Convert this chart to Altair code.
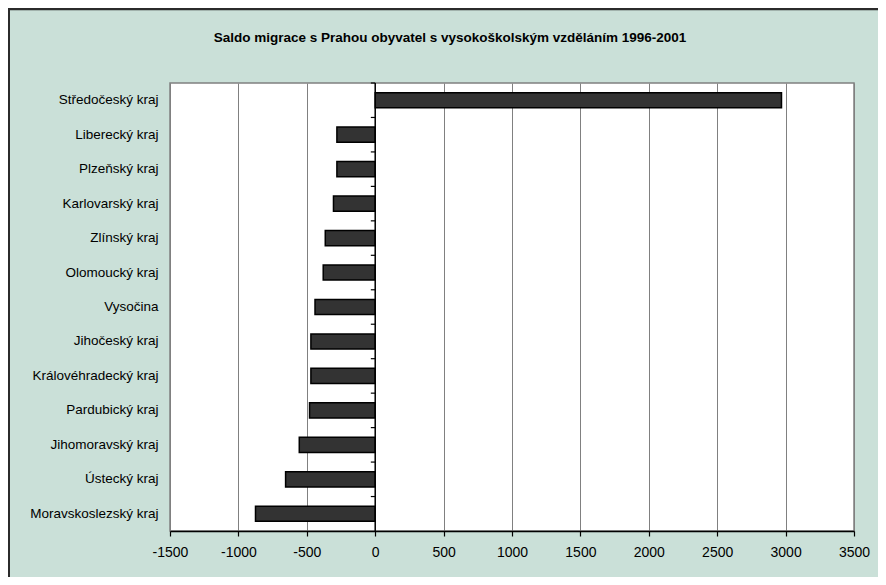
import altair as alt
import pandas as pd

regions = [
    "Středočeský kraj", "Liberecký kraj", "Plzeňský kraj", "Karlovarský kraj",
    "Zlínský kraj", "Olomoucký kraj", "Vysočina", "Jihočeský kraj",
    "Královéhradecký kraj", "Pardubický kraj", "Jihomoravský kraj",
    "Ústecký kraj", "Moravskoslezský kraj",
]
saldo = [2970, -280, -280, -305, -365, -380, -440, -470, -470, -480, -555, -655, -875]
x_ticks = [-1500, -1000, -500, 0, 500, 1000, 1500, 2000, 2500, 3000, 3500]
title_text = "Saldo migrace s Prahou obyvatel s vysokoškolským vzděláním 1996-2001"

df = pd.DataFrame({"kraj": regions, "saldo": saldo})
one = pd.DataFrame({"t": [title_text]})

W, H = 684, 448
FONT = "Liberation Sans"
P_IN, P_OUT = 0.56, 0.28
STEP = H / len(regions)

y_scale = alt.Scale(paddingInner=P_IN, paddingOuter=P_OUT)
x_scale = alt.Scale(domain=[x_ticks[0], x_ticks[-1]], nice=False, zero=False)

x_enc = alt.X(
    "saldo:Q", title=None, scale=x_scale,
    axis=alt.Axis(
        values=x_ticks, grid=True, gridColor="#808080", gridWidth=1,
        domainColor="black", domainWidth=1.5, tickColor="black", tickSize=5,
        tickWidth=1.2, labelFont=FONT, labelFontSize=14, labelPadding=9,
        labelColor="black", labelFlush=False, labelExpr="'' + datum.value",
    ),
)
y_enc = alt.Y(
    "kraj:N", sort=regions, title=None, scale=y_scale,
    axis=alt.Axis(
        domain=False, ticks=False, grid=False, labelFont=FONT,
        labelFontSize=13.5, labelColor="black", labelPadding=12,
    ),
)

bars = alt.Chart(df).mark_bar(
    color="#333333", stroke="black", strokeWidth=1.5
).encode(x=x_enc, y=y_enc)

zero_line = alt.Chart(pd.DataFrame({"saldo": [0]})).mark_rule(
    color="black", strokeWidth=1.5
).encode(x=alt.X("saldo:Q", scale=x_scale))

cat_ticks = alt.Chart(df).mark_rule(
    color="black", strokeWidth=1.2, yOffset=-STEP * P_OUT
).encode(
    y=alt.Y("kraj:N", sort=regions, bandPosition=0, scale=y_scale),
    x=alt.datum(-32),
    x2=alt.datum(0),
)

title = alt.Chart(one).mark_text(
    font=FONT, fontSize=13.5, fontWeight="bold", color="black",
    align="center", baseline="middle",
).encode(text="t:N", x=alt.value(280), y=alt.value(-45))

top_border = alt.Chart(one).mark_rule(color="#2b2b2b", strokeWidth=2.5).encode(
    x=alt.value(-162), x2=alt.value(W + 24), y=alt.value(-74)
)
left_border = alt.Chart(one).mark_rule(color="#2b2b2b", strokeWidth=2).encode(
    x=alt.value(-161), y=alt.value(-75), y2=alt.value(H + 46)
)

chart = alt.layer(bars, zero_line, cat_ticks, title, top_border, left_border).properties(
    width=W, height=H,
    autosize="none",
    padding={"left": 162, "top": 75, "right": 24, "bottom": 46},
    background="#cae0d8",
).configure_view(
    fill="white", stroke="#808080", strokeWidth=1.5
)

chart.save("out.html", embed_options={"renderer": "svg", "actions": False})
